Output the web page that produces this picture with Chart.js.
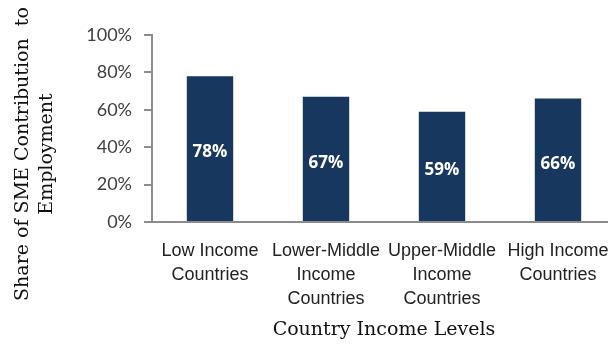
<!DOCTYPE html>
<html>
<head>
<meta charset="utf-8">
<script src="https://cdn.jsdelivr.net/npm/chart.js@4.4.1/dist/chart.umd.min.js"></script>
<style>
  html, body { margin: 0; padding: 0; background: #fff; overflow: hidden; }
  #wrap { width: 616px; height: 344px; }
</style>
</head>
<body>
<div id="wrap"><canvas id="chart" width="616" height="344"></canvas></div>
<script>
// data
const categories = [
  ["Low Income", "Countries"],
  ["Lower-Middle", "Income", "Countries"],
  ["Upper-Middle", "Income", "Countries"],
  ["High Income", "Countries"]
];
const shares = [78, 67, 59, 66];
const yTicks = [0, 20, 40, 60, 80, 100];
const yTitle = ["Share of SME Contribution  to", "Employment"];
const xTitle = "Country Income Levels";

// white % labels inside the bars
const barLabels = {
  id: "barLabels",
  afterDatasetsDraw(chart) {
    const ctx = chart.ctx;
    const meta = chart.getDatasetMeta(0);
    ctx.save();
    ctx.fillStyle = "#ffffff";
    ctx.font = "bold 17px 'Open Sans'";
    ctx.textAlign = "center";
    ctx.textBaseline = "middle";
    meta.data.forEach((bar, i) => {
      const mid = (bar.y + bar.base) / 2 + 4;
      ctx.fillText(shares[i] + "%", bar.x, mid);
    });
    ctx.restore();
  }
};

// rotated y title, sits a bit lower than the axis middle
const sideTitle = {
  id: "sideTitle",
  afterDraw(chart) {
    const ctx = chart.ctx;
    ctx.save();
    ctx.translate(0, 154);
    ctx.rotate(-Math.PI / 2);
    ctx.fillStyle = "#111";
    ctx.font = "19px 'DejaVu Serif'";
    ctx.textAlign = "center";
    ctx.textBaseline = "middle";
    ctx.fillText(yTitle[0], 0, 23);
    ctx.fillText(yTitle[1], 0, 47);
    ctx.restore();
  }
};

new Chart(document.getElementById("chart").getContext("2d"), {
  type: "bar",
  data: {
    labels: categories,
    datasets: [{
      data: shares,
      backgroundColor: "#17375e",
      barPercentage: 0.4,
      categoryPercentage: 1.0
    }]
  },
  options: {
    responsive: false,
    animation: false,
    layout: { padding: { top: 35, left: 0, right: 0, bottom: 0 } },
    plugins: { legend: { display: false }, tooltip: { enabled: false } },
    scales: {
      y: {
        min: 0,
        max: 100,
        afterBuildTicks: (s) => { s.ticks = yTicks.map(v => ({ value: v })); },
        afterFit: (s) => { s.width = 152; },
        grid: { drawOnChartArea: false, drawTicks: true, tickLength: 8, color: "#8c8c8c", lineWidth: 2 },
        border: { color: "#8c8c8c", width: 2 },
        ticks: {
          padding: 12,
          color: "#404040",
          font: { family: "Lato", size: 18 },
          callback: (v) => v + "%"
        }
      },
      x: {
        afterFit: (s) => { s.height = 122; s.paddingLeft = 0; s.paddingRight = 0; },
        grid: { display: true, drawOnChartArea: false, drawTicks: false },
        border: { color: "#8c8c8c", width: 2 },
        ticks: {
          padding: 17,
          maxRotation: 0,
          autoSkip: false,
          color: "#222",
          font: { family: "Liberation Sans", size: 18, lineHeight: 1.33 }
        },
        title: {
          display: true,
          text: xTitle,
          color: "#111",
          font: { family: "DejaVu Serif", size: 19 },
          padding: { top: 0, bottom: 3 }
        }
      }
    }
  },
  plugins: [barLabels, sideTitle]
});
</script>
</body>
</html>
